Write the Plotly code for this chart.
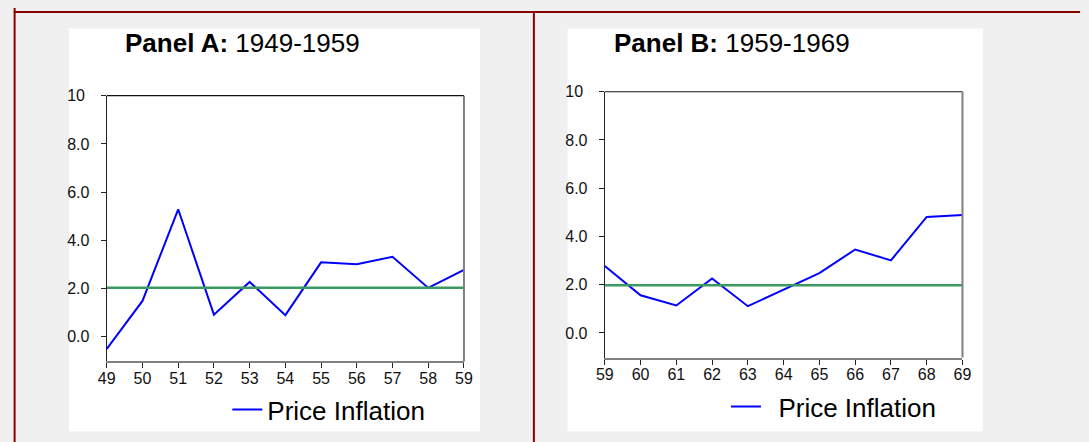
import plotly.graph_objects as go

# ---------------- data ----------------
years_a = [1949, 1950, 1951, 1952, 1953, 1954, 1955, 1956, 1957, 1958, 1959]
infl_a = [-0.50, 1.49, 5.29, 0.92, 2.28, 0.90, 3.09, 3.01, 3.32, 2.03, 2.78]
target_a = 2.04

years_b = [1959, 1960, 1961, 1962, 1963, 1964, 1965, 1966, 1967, 1968, 1969]
infl_b = [2.78, 1.56, 1.14, 2.26, 1.11, 1.80, 2.48, 3.46, 3.01, 4.81, 4.89]
target_b = 1.98

xlabels_a = ["49", "50", "51", "52", "53", "54", "55", "56", "57", "58", "59"]
xlabels_b = ["59", "60", "61", "62", "63", "64", "65", "66", "67", "68", "69"]
yticks = [0, 2, 4, 6, 8, 10]
ylabels = ["0.0", "2.0", "4.0", "6.0", "8.0", "10&nbsp;"]

series_name = "Price Inflation"
title_a = "<b>Panel A:</b> 1949-1959"
title_b = "<b>Panel B:</b> 1959-1969"

# ---------------- layout helpers ----------------
W, H = 1089, 442
FONT = "Arial, Liberation Sans, sans-serif"
BLUE = "#0000FF"
GREEN = "#3A9A62"
RED = "#880000"
BG = "#F0F0F0"


def fx(p):
    return p / W


def fy(p):
    return 1 - p / H


fig = go.Figure()

fig.add_trace(go.Scatter(x=years_a, y=infl_a, mode="lines", name=series_name,
                         line=dict(color=BLUE, width=2), xaxis="x", yaxis="y",
                         legend="legend"))
fig.add_trace(go.Scatter(x=[years_a[0], years_a[-1]], y=[target_a, target_a], mode="lines",
                         line=dict(color=GREEN, width=2.5), xaxis="x", yaxis="y",
                         showlegend=False))
fig.add_trace(go.Scatter(x=years_b, y=infl_b, mode="lines", name="\u00a0\u2009" + series_name,
                         line=dict(color=BLUE, width=2), xaxis="x2", yaxis="y2",
                         legend="legend2"))
fig.add_trace(go.Scatter(x=[years_b[0], years_b[-1]], y=[target_b, target_b], mode="lines",
                         line=dict(color=GREEN, width=2.5), xaxis="x2", yaxis="y2",
                         showlegend=False))

tickfont = dict(family=FONT, size=16, color="#111111")


def xaxis_cfg(dom, years, labels):
    return dict(domain=dom, range=[years[0], years[-1]], tickmode="array",
                tickvals=years, ticktext=labels, ticks="outside", ticklen=5,
                tickcolor="#222222", tickwidth=1, showgrid=False, zeroline=False,
                showline=True, linecolor="#808080", linewidth=2, tickfont=tickfont,
                ticklabelstandoff=-4, fixedrange=True)


def yaxis_cfg(dom, anchor):
    return dict(domain=dom, anchor=anchor, range=[-1.02, 10], tickmode="array",
                tickvals=yticks, ticktext=ylabels, ticks="outside", ticklen=5,
                tickcolor="#222222", tickwidth=1, showgrid=False, zeroline=False,
                showline=True, linecolor="#222222", linewidth=1.2, tickfont=tickfont,
                ticklabelstandoff=8, fixedrange=True)


# plot areas (pixel positions)
A = dict(l=99.4, r=462.6, t=89.3, b=360)
B = dict(l=605.8, r=969.5, t=85.3, b=356)

shapes = [
    # white panels
    dict(type="rect", xref="paper", yref="paper", x0=fx(61), x1=fx(479), y0=fy(431), y1=fy(21),
         fillcolor="white", line=dict(width=0), layer="below"),
    dict(type="rect", xref="paper", yref="paper", x0=fx(568), x1=fx(990), y0=fy(431), y1=fy(21),
         fillcolor="white", line=dict(width=0), layer="below"),
    # dark red frame
    dict(type="line", xref="paper", yref="paper", x0=fx(5.7), x1=fx(5.7), y0=0, y1=1,
         line=dict(color=RED, width=2)),
    dict(type="line", xref="paper", yref="paper", x0=fx(5), x1=1, y0=fy(4), y1=fy(4),
         line=dict(color=RED, width=2)),
    dict(type="line", xref="paper", yref="paper", x0=fx(533.7), x1=fx(533.7), y0=0, y1=fy(4),
         line=dict(color=RED, width=2)),
]
for P in (A, B):
    # top frame (black) and right frame (gray)
    shapes.append(dict(type="line", xref="paper", yref="paper", x0=fx(P["l"]), x1=fx(P["r"]),
                       y0=fy(P["t"]), y1=fy(P["t"]), line=dict(color="#111111", width=1.2)))
    shapes.append(dict(type="line", xref="paper", yref="paper", x0=fx(P["r"]), x1=fx(P["r"]),
                       y0=fy(P["b"]), y1=fy(P["t"]), line=dict(color="#808080", width=2)))

annotations = [
    dict(text=title_a, xref="paper", yref="paper", x=fx(116), y=fy(36), xanchor="left",
         yanchor="middle", showarrow=False, font=dict(family=FONT, size=26, color="black")),
    dict(text=title_b, xref="paper", yref="paper", x=fx(613), y=fy(36), xanchor="left",
         yanchor="middle", showarrow=False, font=dict(family=FONT, size=26, color="black")),
]

legfont = dict(family=FONT, size=26, color="black")
fig.update_layout(
    width=W, height=H, margin=dict(l=0, r=0, t=0, b=0),
    paper_bgcolor=BG, plot_bgcolor="white",
    xaxis=xaxis_cfg([fx(A["l"]), fx(A["r"])], years_a, xlabels_a) | dict(anchor="y"),
    yaxis=yaxis_cfg([fy(A["b"]), fy(A["t"])], "x"),
    xaxis2=xaxis_cfg([fx(B["l"]), fx(B["r"])], years_b, xlabels_b) | dict(anchor="y2"),
    yaxis2=yaxis_cfg([fy(B["b"]), fy(B["t"])], "x2"),
    legend=dict(x=fx(222), y=fy(409), xanchor="left", yanchor="middle",
                bgcolor="rgba(0,0,0,0)", font=legfont, itemwidth=30),
    legend2=dict(x=fx(729), y=fy(406), xanchor="left", yanchor="middle",
                 bgcolor="rgba(0,0,0,0)", font=legfont, itemwidth=30),
    shapes=shapes, annotations=annotations, showlegend=True,
)

# page background matches the figure; pin plot to the top-left corner of the page
pin = ("document.documentElement.style.background='" + BG + "';"
       "document.body.style.background='" + BG + "';"
       "document.documentElement.style.margin='0px';"
       "document.body.style.margin='0px';document.body.style.padding='0px';"
       "var gd=document.getElementById('{plot_id}');"
       "gd.style.position='fixed';gd.style.left='0px';gd.style.top='0px';")
fig.write_html("out.html", post_script=pin, config={"displayModeBar": False})
